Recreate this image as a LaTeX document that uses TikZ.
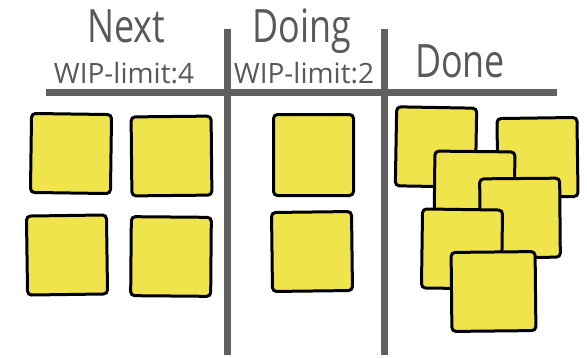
\documentclass[tikz,border=0pt]{standalone}
\usepackage{fontspec}
\usepackage{xcolor}
\usepackage{tikz}
\newfontfamily\headfont[FakeStretch=0.78]{Open Sans}
\newfontfamily\limitfont{Open Sans}
\definecolor{BoardGray}{RGB}{96, 96, 96}
\definecolor{InkGray}{RGB}{88, 88, 94}
\definecolor{NoteYellow}{RGB}{240, 228, 76}

\begin{document}
\begin{tikzpicture}[x=1pt, y=-1pt,
  sticky/.style={draw=black, fill=NoteYellow, line width=3pt, rounded corners=4pt,
                 minimum width=80pt, minimum height=79pt, inner sep=0pt},
  board/.style={draw=BoardGray, line width=7pt},
  colhead/.style={anchor=base, text=InkGray, inner sep=0pt,
                  font=\headfont\fontsize{46}{46}\selectfont},
  wiplimit/.style={anchor=base, text=InkGray, inner sep=0pt,
                   font=\limitfont\fontsize{28}{28}\selectfont}]
  \useasboundingbox (0,0) rectangle (587,357);

  % board lines
  \coordinate (rowL) at (46,92);
  \coordinate (rowR) at (557,92);
  \coordinate (colAtop) at (227,29);
  \coordinate (colAbot) at (227,355);
  \coordinate (colBtop) at (384,29);
  \coordinate (colBbot) at (384,355);
  \draw[board] (rowL) -- (rowR);
  \draw[board] (colAtop) -- (colAbot);
  \draw[board] (colBtop) -- (colBbot);

  % column headings
  \node[colhead] (next) at (126,42) {Next};
  \node[wiplimit] (nextlim) at (124,83) {WIP-limit:4};
  \node[colhead] (doing) at (302,42) {Doing};
  \node[wiplimit] (doinglim) at (304,83) {WIP-limit:2};
  \node[colhead] (done) at (460,77) {Done};

  % next
  \node[sticky, rotate=-0.8] (next1) at (71,153.5) {};
  \node[sticky, rotate=0.6] (next2) at (171.5,156) {};
  \node[sticky, rotate=0.8] (next3) at (67,255) {};
  \node[sticky, rotate=-0.5] (next4) at (171,256.5) {};

  % doing
  \node[sticky, minimum height=81pt] (doing1) at (313.5,155) {};
  \node[sticky, rotate=0.7] (doing2) at (312,251.5) {};

  % done
  \node[sticky, rotate=-1] (done1) at (436,147) {};
  \node[sticky, rotate=0.8] (done2) at (537.5,157.5) {};
  \node[sticky, rotate=-0.6] (done3) at (474.5,191) {};
  \node[sticky, rotate=0.5] (done4) at (520,218) {};
  \node[sticky, rotate=-0.8] (done5) at (462,249) {};
  \node[sticky, minimum width=84pt, rotate=0.6] (done6) at (493.5,291.5) {};
\end{tikzpicture}
\end{document}
